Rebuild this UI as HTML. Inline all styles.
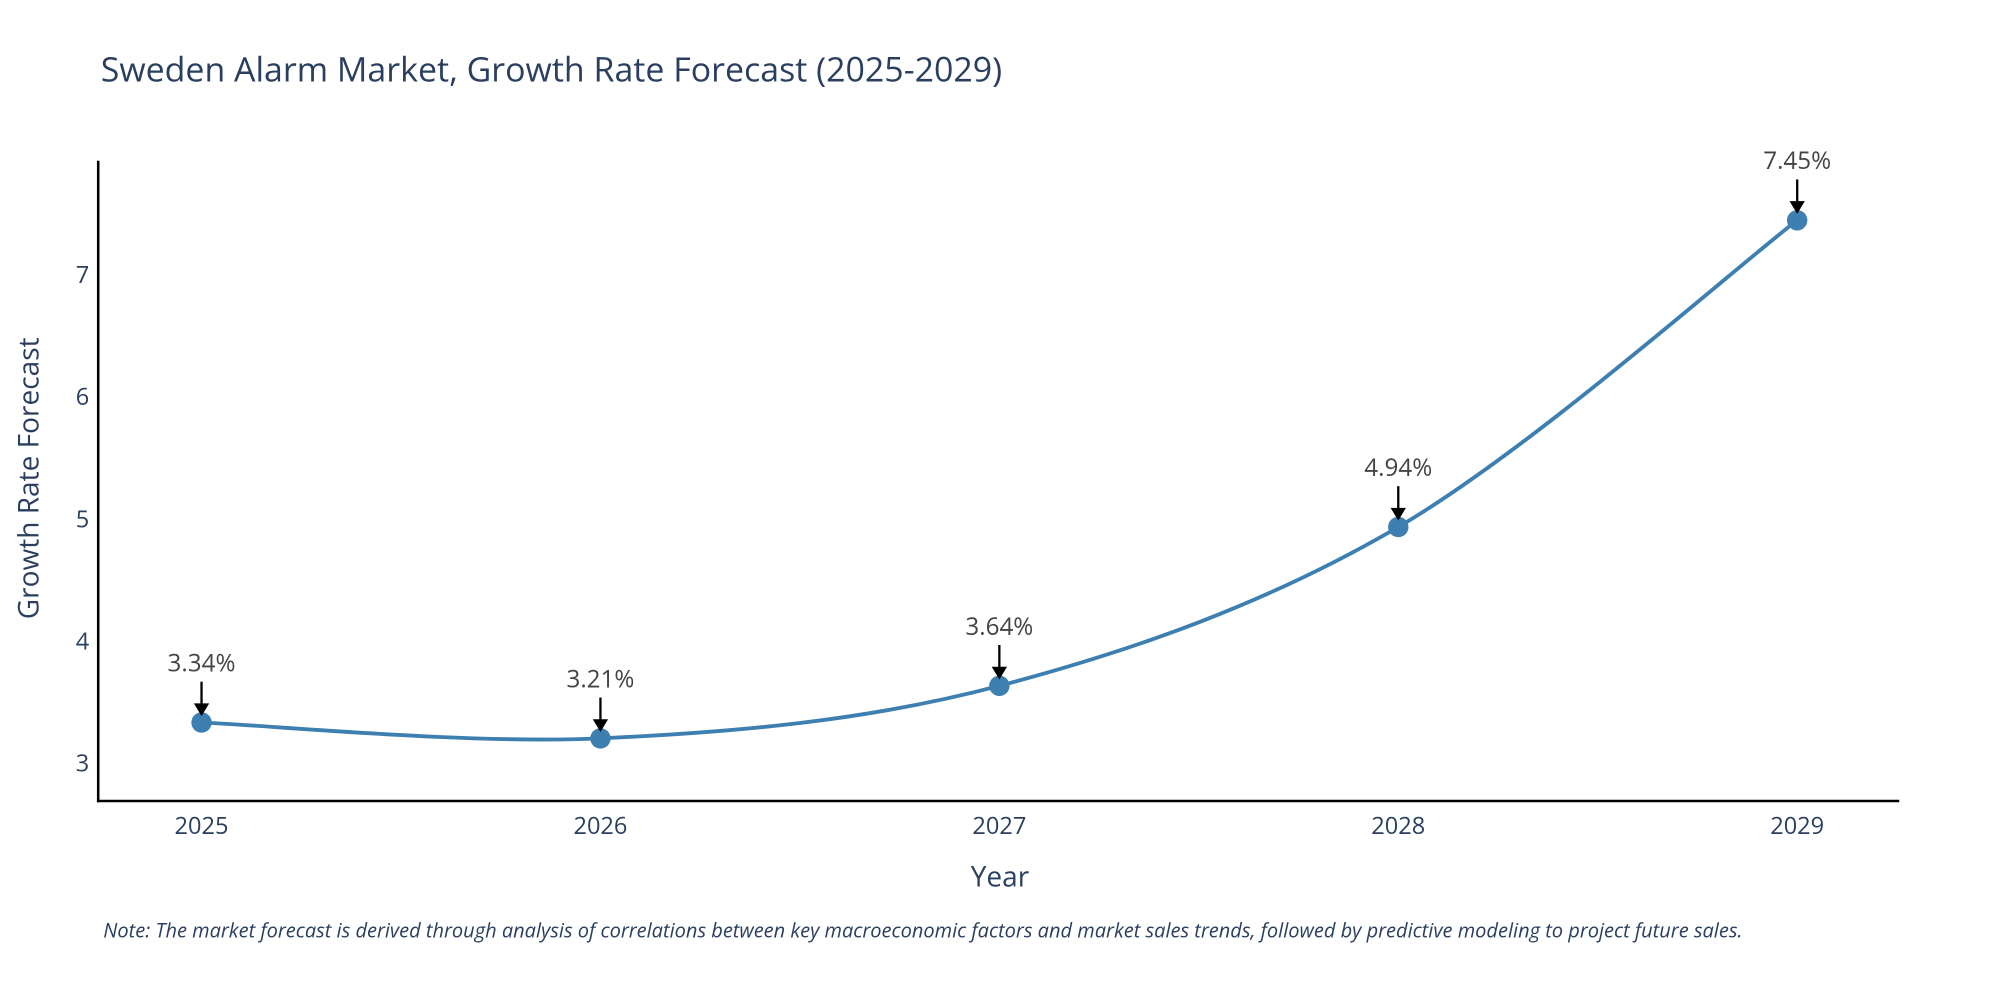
<!DOCTYPE html>
<html><head><meta charset="utf-8"><style>
html,body{margin:0;padding:0;background:#fff;}
svg{display:block;font-family:"Open Sans","Liberation Sans",sans-serif;}
</style></head><body>
<svg id="chart" width="2000" height="1000" viewBox="0 0 1568 784" xmlns="http://www.w3.org/2000/svg">
<text x="79" y="64" font-size="26.6" fill="#2a3f5f">Sweden Alarm Market, Growth Rate Forecast (2025-2029)</text>
<g id="yticks"></g>
<g id="xticks"></g>
<path id="curve" fill="none" stroke="#3d7fb0" stroke-width="3"/>
<g id="marks"></g>
<line x1="77" y1="126" x2="77" y2="629" stroke="#000" stroke-width="2"/>
<line x1="76" y1="628" x2="1489" y2="628" stroke="#000" stroke-width="2"/>
<text x="784" y="695" font-size="22" fill="#2a3f5f" text-anchor="middle">Year</text>
<text transform="translate(30,375) rotate(-90)" font-size="22" fill="#2a3f5f" text-anchor="middle">Growth Rate Forecast</text>
<text x="81" y="735" font-size="15.7" font-style="italic" fill="#2a3f5f">Note: The market forecast is derived through analysis of correlations between key macroeconomic factors and market sales trends, followed by predictive modeling to project future sales.</text>
</svg>
<script>
const years = ["2025","2026","2027","2028","2029"];
const growth = [3.34, 3.21, 3.64, 4.94, 7.45];
const yTickValues = [3,4,5,6,7];
const NS="http://www.w3.org/2000/svg";
function xs(i){return 158 + i*312.75;}
function ys(v){return 599 - (v-3)*95.8;}
function mk(tag,attrs,parent){const e=document.createElementNS(NS,tag);for(const k in attrs)e.setAttribute(k,attrs[k]);parent.appendChild(e);return e;}
const yt=document.getElementById('yticks');
yTickValues.forEach(v=>{
  const t=mk('text',{x:70,y:ys(v)+6,'font-size':18.5,fill:'#2a3f5f','text-anchor':'end'},yt);
  
  
  t.textContent=v;
});
const xt=document.getElementById('xticks');
years.forEach((y,i)=>{
  const t=mk('text',{x:xs(i),y:654,'font-size':18.5,fill:'#2a3f5f','text-anchor':'middle'},xt);
  
  
  t.textContent=y;
});
const pts=growth.map((v,i)=>[xs(i),ys(v)]);
let d=`M${pts[0][0]},${pts[0][1]}`;
for(let i=0;i<pts.length-1;i++){
  const p0=pts[Math.max(0,i-1)],p1=pts[i],p2=pts[i+1],p3=pts[Math.min(pts.length-1,i+2)];
  const s=1/6;
  const c1=[p1[0]+(p2[0]-p0[0])*s,p1[1]+(p2[1]-p0[1])*s];
  const c2=[p2[0]-(p3[0]-p1[0])*s,p2[1]-(p3[1]-p1[1])*s];
  d+=` C${c1[0]},${c1[1]} ${c2[0]},${c2[1]} ${p2[0]},${p2[1]}`;
}
document.getElementById('curve').setAttribute('d',d);
const g=document.getElementById('marks');
growth.forEach((v,i)=>{
  const x=xs(i),y=ys(v);
  const c=mk('circle',{cx:x,cy:y,r:8,fill:'#3d7fb0'},g);
  
  
  const a=mk('line',{x1:x,y1:y-32,x2:x,y2:y-12,stroke:'#000','stroke-width':1.8},g);
  
  
  const h=mk('path',{d:`M${x-6},${y-15} L${x+6},${y-15} L${x},${y-5} Z`,fill:'#000'},g);
  
  
  const t=mk('text',{x:x,y:y-40,'font-size':19,fill:'#444','text-anchor':'middle'},g);
  
  
  t.textContent=v.toFixed(2)+'%';
});
</script>
</body></html>
